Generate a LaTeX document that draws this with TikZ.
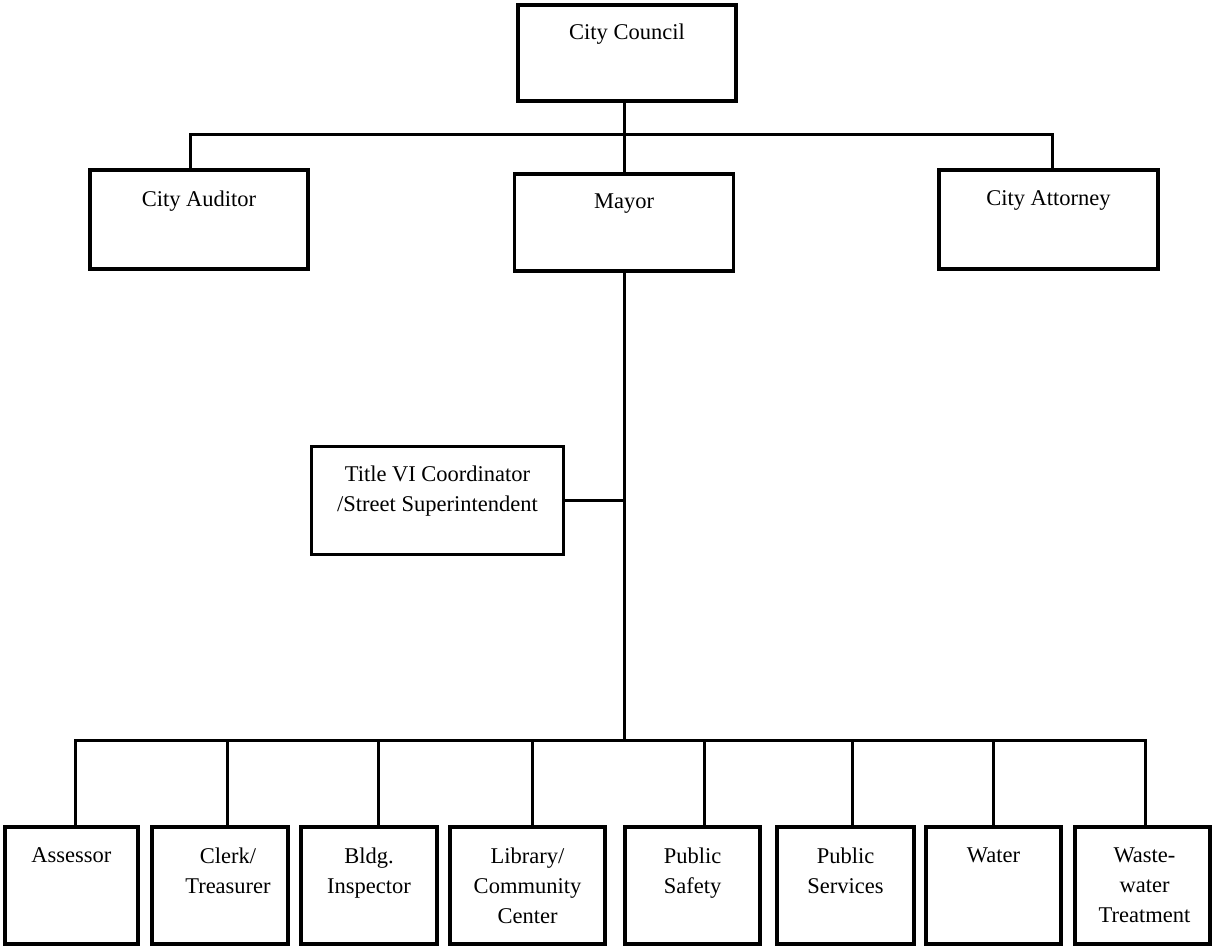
\documentclass[tikz,border=0pt]{standalone}
\usepackage{fontspec}
\setmainfont{Liberation Serif}
\usetikzlibrary{positioning}

\begin{document}
\begin{tikzpicture}[
	x=1pt, y=-1pt
	,box/.style={draw, line width=3.5pt, inner sep=0pt}
	,thinbox/.style={box, line width=3pt}
	,lbl/.style={font=\fontsize{22.5}{30}\selectfont, align=center, inner sep=0pt}
	,link/.style={line width=3pt, line cap=rect}
]
	\useasboundingbox (0,0) rectangle (1213,949);

	% top level
	\node [box, minimum width=218pt, minimum height=96pt] (council) at (627,53) {};
	\node [box, minimum width=218pt, minimum height=99pt] (auditor) at (199,219.5) {};
	\node [box, minimum width=219pt, minimum height=97pt] (mayor) at (624,222.5) {};
	\node [box, minimum width=219pt, minimum height=99pt] (attorney) at (1048.5,219.5) {};
	\node [thinbox, minimum width=252pt, minimum height=108pt] (title) at (437.5,500.5) {};

	\node [lbl, below=20pt of council.north] (council-t) {City Council};
	\node [lbl, below=22pt of auditor.north] (auditor-t) {City Auditor};
	\node [lbl, below=21pt of mayor.north] (mayor-t) {Mayor};
	\node [lbl, below=22pt of attorney.north] (attorney-t) {City Attorney};
	\node [lbl, below=21pt of title.north] (title-t) {Title VI Coordinator\\/Street Superintendent};

	% departments
	\node [box, minimum width=133pt, minimum height=117pt] (assessor) at (71.5,885.5) {};
	\node [box, minimum width=136pt, minimum height=117pt] (clerk) at (220,885.5) {};
	\node [box, minimum width=136pt, minimum height=117pt] (bldg) at (369,885.5) {};
	\node [box, minimum width=155pt, minimum height=117pt] (library) at (527.5,885.5) {};
	\node [box, minimum width=135pt, minimum height=117pt] (safety) at (692.5,885.5) {};
	\node [box, minimum width=137pt, minimum height=117pt] (services) at (845.5,885.5) {};
	\node [box, minimum width=135pt, minimum height=117pt] (water) at (993.5,885.5) {};
	\node [box, minimum width=135pt, minimum height=117pt] (waste) at (1142.5,885.5) {};

	\node [lbl, below=22pt of assessor.north] (assessor-t) {Assessor};
	\node [lbl, below=22pt of clerk.north, xshift=8pt] (clerk-t) {Clerk/\\Treasurer};
	\node [lbl, below=22pt of bldg.north] (bldg-t) {Bldg.\\Inspector};
	\node [lbl, below=22pt of library.north] (library-t) {Library/\\Community\\Center};
	\node [lbl, below=22pt of safety.north] (safety-t) {Public\\Safety};
	\node [lbl, below=22pt of services.north] (services-t) {Public\\Services};
	\node [lbl, below=22pt of water.north] (water-t) {Water};
	\node [lbl, below=22pt of waste.north, xshift=2pt] (waste-t) {Waste-\\water\\Treatment};

	% connectors
	\coordinate (topbus) at (624,135);
	\coordinate (bus) at (624,740);
	\draw [link] (council.south -| mayor.north) -- (mayor.north);
	\draw [link] ([xshift=-9pt]auditor.north) |- (topbus);
	\draw [link] ([xshift=3.5pt]attorney.north) |- (topbus);
	\draw [link] (mayor.south) -- (bus);
	\draw [link] (title.east) -- (title.east -| bus);
	\draw [link] ([xshift=3.5pt]assessor.north) |- (bus);
	\draw [link] ([xshift=7pt]clerk.north) |- (bus);
	\draw [link] ([xshift=9pt]bldg.north) |- (bus);
	\draw [link] ([xshift=4.5pt]library.north) |- (bus);
	\draw [link] ([xshift=11.5pt]safety.north) |- (bus);
	\draw [link] ([xshift=6.5pt]services.north) |- (bus);
	\draw [link] (water.north) |- (bus);
	\draw [link] ([xshift=2.5pt]waste.north) |- (bus);
\end{tikzpicture}
\end{document}
